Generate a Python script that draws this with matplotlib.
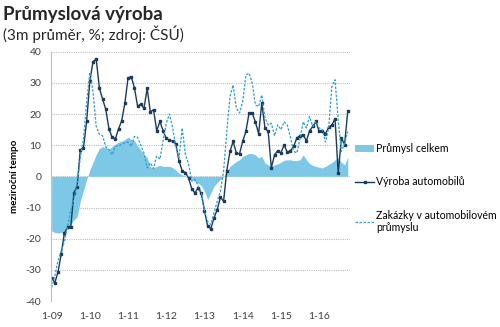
import matplotlib.pyplot as plt
import numpy as np
import pandas as pd

plt.rcParams['font.family'] = ['Lato', 'DejaVu Sans']

# monthly values, Jan 2009 .. Oct 2016
prumysl = [
    -17.5, -18, -18.2, -18, -17.5, -16.5, -15.5, -14, -13, -8, -4.5, -1,
    2, 4.5, 7, 9, 9.5, 9.3, 8.8, 9.6, 10.3, 11, 11.3, 11.8,
    12.6, 11.8, 11.5, 9.8, 8.5, 7, 6, 3, 2.7, 3.2, 3.5, 3.2,
    3.2, 3.2, 2.8, 2, 1, 0.5, 0, -0.5, -1, -1.6, -2.2, -3,
    -4.8, -7.5, -5.3, -3.2, -2, -1, 0, 1.5, 3.2, 4, 4.8, 5.3,
    6.4, 6.9, 7.3, 7.3, 6.9, 5.9, 6.4, 4.3, 3.7, 3.2, 3.7, 4,
    4.5, 5.2, 5.3, 5.3, 5, 5.1, 5.3, 6.9, 5.3, 4.1, 3.5, 3.2,
    2.9, 2.7, 3.2, 3.8, 4.4, 5.3, 5.9, 4.5, 3.7, 6.2,
]
vyroba = [
    -32.5, -34.2, -30.7, -25, -18.2, -16.4, -16.3, -5.2, -3.3, 8.5, 9.1, 17.7,
    30.6, 36.8, 37.6, 28.3, 24.8, 21.5, 15.2, 12.5, 12, 15.2, 17.8, 23.5,
    31.6, 32, 28.4, 22.5, 23.2, 21.8, 28.2, 20.6, 21.4, 14.6, 17.6, 14.6,
    12.2, 11.6, 11.2, 10.5, 4.9, 1.8, 1.2, -0.5, -4, -5.3, -3.7, -5.5,
    -11, -16, -16.8, -13.3, -10.7, -6.7, -8, 1.8, 8, 11.2, 7.5, 7.2,
    11.2, 14.4, 20.3, 20.3, 17.4, 13.7, 23.5, 15.5, 14.4, 2.7, 6.9, 8.2,
    7.5, 10.1, 7.7, 8.2, 9.6, 12.3, 13.1, 13.3, 11.4, 14.6, 16, 17.6,
    14.4, 14.7, 13.6, 15.8, 16.5, 18.5, 1, 12.4, 10.2, 21,
]
zakazky = [
    -35.7, -32, -27, -24, -21, -16, -11, -7, -3, 6, 12, 24,
    33.3, 27, 16, 13.5, 13, 9.5, 8.5, 6.9, 9.6, 9.8, 10.2, 10.8,
    11, 9.6, 12.8, 12.5, 10, 7.5, 2.7, 4.3, 2.5, 6.5, 5.5, 11.5,
    17, 20, 15.5, 9.5, 6, 15.5, 7, 4, -1.5, -1, -3, -5,
    -11, -14.5, -15.5, -11.7, -8, -4.8, 1.6, 14.4, 25.6, 29.3, 21.9, 20.3,
    24, 32.5, 33.1, 29.9, 22.9, 22.4, 26.1, 18.7, 16.5, 17, 13, 16.5,
    15, 17.5, 16.5, 12.5, 8, 7.5, 12, 17.5, 15.5, 19.2, 16, 17.5,
    15.5, 15, 11, 15.5, 28.8, 31, 18, 8, 10.5, 14.4,
]
months = pd.date_range('2009-01-01', periods=len(vyroba), freq='MS')
tick_labels = ['1-09', '1-10', '1-11', '1-12', '1-13', '1-14', '1-15', '1-16']

x = np.arange(len(months))

fig = plt.figure(figsize=(5, 3.27), dpi=100)
ax = fig.add_axes([0.102, 0.0795, 0.598, 0.7625])

a = ax.fill_between(x, 0, prumysl, color='#7cc8e6', lw=0, label='Průmysl celkem')
l1, = ax.plot(x, vyroba, color='#1c3a5e', lw=1.0, marker='s', ms=2.0,
              label='Výroba automobilů')
l2, = ax.plot(x, zakazky, color='#2f9fcc', lw=0.9, dashes=(2, 1.2),
              label='Zakázky v automobilovém\nprůmyslu')

ax.set_ylim(-40, 40)
ax.set_xlim(-0.2, 93.7)
ax.set_yticks(range(-40, 41, 10))
ax.set_yticklabels([str(v) for v in range(-40, 41, 10)])
ax.set_xticks([i for i, m in enumerate(months) if m.month == 1])
ax.set_xticklabels(tick_labels)
ax.tick_params(length=0, labelsize=7.5, colors='#404040')
ax.tick_params(axis='x', pad=8)
ax.tick_params(axis='y', pad=7)
ax.grid(axis='y', color='#bfbfbf', lw=0.8, ls=(0, (1, 1)))
ax.set_axisbelow(True)
for s in ['top', 'right', 'bottom']:
    ax.spines[s].set_visible(False)
ax.spines['left'].set_color('#bfbfbf')
ax.spines['left'].set_linewidth(0.8)

ax.set_ylabel('meziroční tempo', fontsize=7, fontweight='bold', labelpad=5)

fig.text(0.006, 0.955, 'Průmyslová výroba', fontsize=13.5, fontweight='bold',
         color='#262626', va='center')
fig.text(0.006, 0.895, '(3m průměr, %; zdroj: ČSÚ)', fontsize=11,
         color='#262626', va='center')

fig.legend(handles=[a, l1, l2], loc='upper left', bbox_to_anchor=(0.702, 0.575),
           frameon=False, fontsize=7.6, labelspacing=2.1, handlelength=1.8,
           handletextpad=0.15, borderaxespad=0)

fig.savefig('out.png', dpi=100)
